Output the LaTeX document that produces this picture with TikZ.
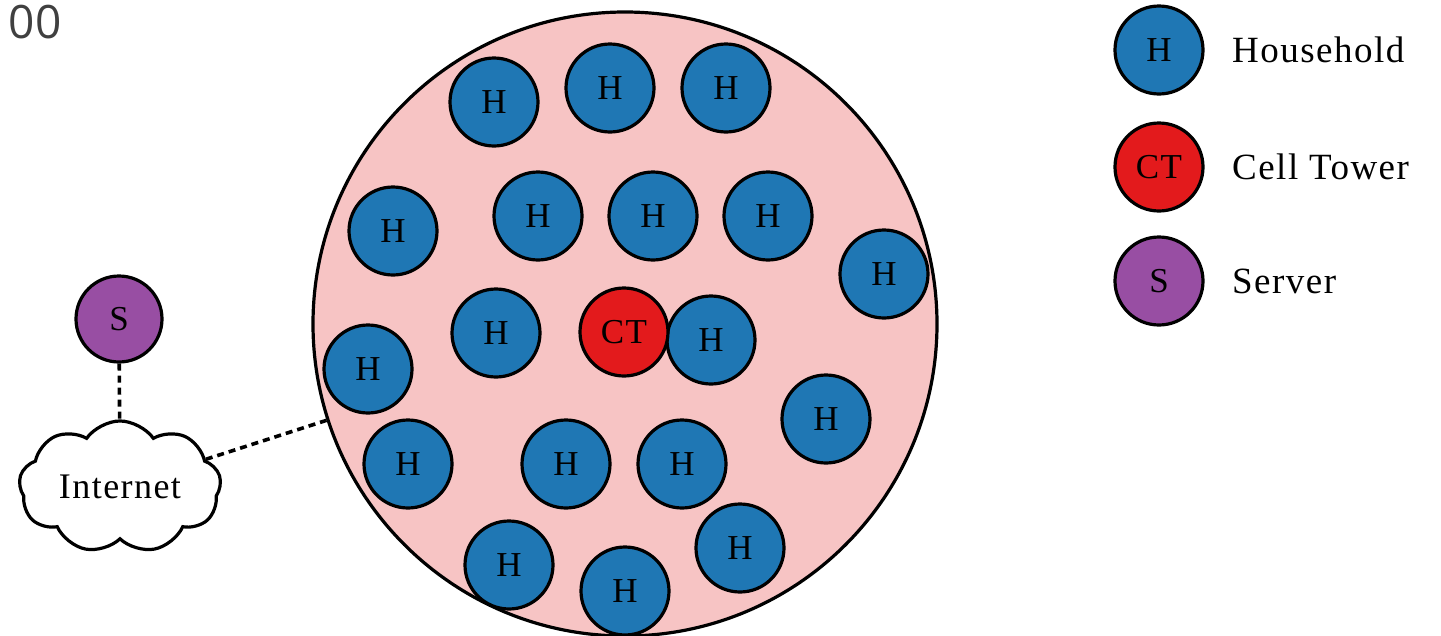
\documentclass[tikz,border=0pt]{standalone}
\usepackage{fontspec}
\setmainfont{Liberation Serif}[LetterSpace=4]
\newfontfamily\numfont{Open Sans}
\usetikzlibrary{shapes.symbols}
\definecolor{hblue}{RGB}{31,119,180}
\definecolor{ctred}{RGB}{227,26,28}
\definecolor{spurple}{RGB}{152,78,163}
\definecolor{zone}{RGB}{247,196,196}
\definecolor{numgray}{RGB}{64,64,64}
\tikzset{
  ent/.style={circle, draw=black, line width=3.2pt, minimum size=88pt, inner sep=0pt, font=\fontsize{35}{37}\selectfont},
  hh/.style={ent, fill=hblue},
  ct/.style={ent, fill=ctred},
  srv/.style={ent, fill=spurple, minimum size=86pt},
  lbl/.style={anchor=west, font=\fontsize{37}{40}\selectfont, inner sep=0pt},
  link/.style={line width=3.6pt, dash pattern=on 7pt off 5pt}
}
\begin{document}
\begin{tikzpicture}[x=1pt, y=-1pt]
\useasboundingbox (0,0) rectangle (1441,635);
\node[numgray, font=\numfont\fontsize{46}{48}\selectfont, anchor=center] (num) at (35,22) {00};
% coverage zone
\node[circle, draw=black, line width=3.2pt, fill=zone, minimum size=624pt, inner sep=0pt] (zone) at (625,324) {};
% households
\node[hh] (h1) at (494,102) {H};
\node[hh] (h2) at (610,88) {H};
\node[hh] (h3) at (726,88) {H};
\node[hh] (h4) at (393,231) {H};
\node[hh] (h5) at (538,216) {H};
\node[hh] (h6) at (653,216) {H};
\node[hh] (h7) at (768,216) {H};
\node[hh] (h8) at (884,274) {H};
\node[hh] (h9) at (496,333) {H};
\node[hh] (h11) at (711,340) {H};
\node[ct] (ct) at (624,332) {CT};
\node[hh] (h12) at (368,369) {H};
\node[hh] (h13) at (826,419) {H};
\node[hh] (h14) at (408,464) {H};
\node[hh] (h15) at (566,464) {H};
\node[hh] (h16) at (682,464) {H};
\node[hh] (h17) at (509,565) {H};
\node[hh] (h18) at (625,591) {H};
\node[hh] (h19) at (740,548) {H};
% server and internet
\node[srv] (srv) at (119,319) {S};
\node[cloud, draw=black, line width=3.2pt, fill=white, cloud puffs=9, cloud puff arc=110, aspect=1.6, minimum width=202pt, minimum height=126pt, inner sep=0pt, font=\fontsize{36}{38}\selectfont] (inet) at (120,487) {Internet};
\draw[link] (srv) -- (inet);
\draw[link] (inet) -- (zone);
% legend
\node[hh] (lh) at (1159,50) {H};
\node[ct] (lct) at (1159,167) {CT};
\node[srv, minimum size=88pt] (ls) at (1159,281) {S};
\node[lbl] (th) at (1232,50) {Household};
\node[lbl] (tct) at (1232,167) {Cell Tower};
\node[lbl] (ts) at (1232,281) {Server};
\end{tikzpicture}
\end{document}
